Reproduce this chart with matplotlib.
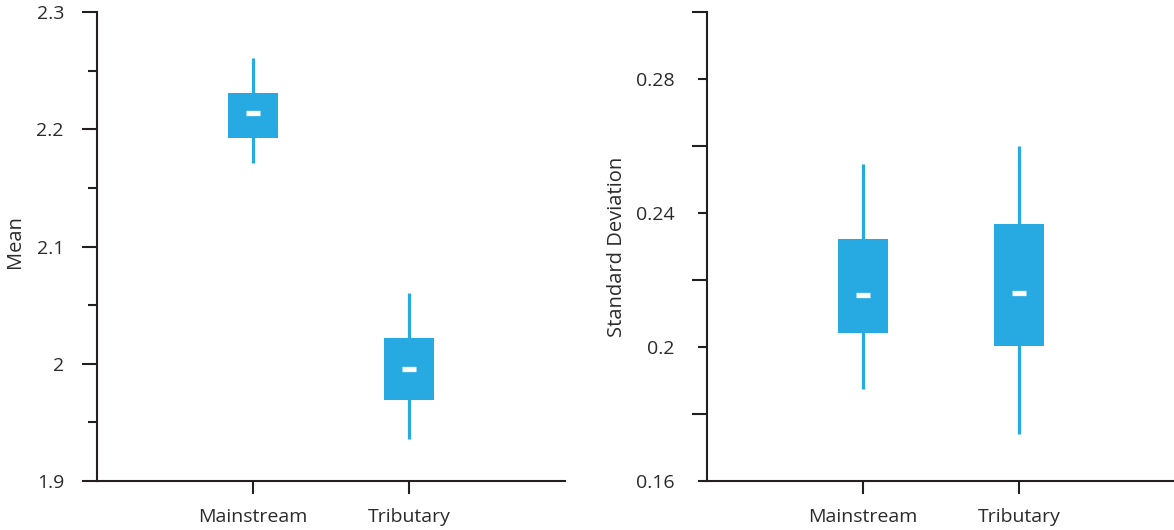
import numpy as np
import matplotlib.pyplot as plt
from matplotlib.ticker import FixedLocator, FixedFormatter

plt.rcParams['font.family'] = ['Open Sans', 'DejaVu Sans']

categories = ["Mainstream", "Tributary"]

# mean panel
mean_whisk_lo = [2.171, 1.936]
mean_q1 = [2.1925, 1.969]
mean_mid = [2.214, 1.9955]
mean_q3 = [2.231, 2.022]
mean_whisk_hi = [2.261, 2.060]

# standard deviation panel
sd_whisk_lo = [0.1876, 0.1741]
sd_q1 = [0.2041, 0.2002]
sd_mid = [0.2155, 0.2161]
sd_q3 = [0.2323, 0.2368]
sd_whisk_hi = [0.2545, 0.2599]

mean_major = [1.9, 2.0, 2.1, 2.2, 2.3]
mean_major_labels = ["1.9", "2", "2.1", "2.2", "2.3"]
mean_minor = [1.95, 2.05, 2.15, 2.25]
sd_major = [0.16, 0.2, 0.24, 0.28]
sd_major_labels = ["0.16", "0.2", "0.24", "0.28"]
sd_minor = [0.18, 0.22, 0.26, 0.30]

blue = "#27aae1"
ink = "#231f20"
txt = "#2b2b2b"
W, H = 1174, 530

fig = plt.figure(figsize=(W/100, H/100), dpi=100)
ax1 = fig.add_axes([97/W, 49/H, 468/W, 469/H])
ax2 = fig.add_axes([707/W, 49/H, 468/W, 469/H])

def draw(ax, lo, q1, mid, q3, hi):
    x = np.arange(1, len(categories) + 1)
    ax.vlines(x, lo, hi, color=blue, lw=2.3, zorder=2)
    ax.bar(x, np.array(q3) - np.array(q1), bottom=q1, width=0.32, color=blue, zorder=3)
    ax.hlines(mid, x - 0.048, x + 0.048, color="white", lw=3.8, zorder=4)
    ax.set_xlim(0, 3)
    ax.set_xticks(x)
    ax.set_xticklabels(categories)
    for s in ["top", "right"]:
        ax.spines[s].set_visible(False)
    for s in ["left", "bottom"]:
        ax.spines[s].set_linewidth(1.5)
        ax.spines[s].set_color(ink)
    ax.tick_params(axis="x", length=9.5, width=1.5, color=ink, pad=10, labelsize=14, labelcolor=txt)

draw(ax1, mean_whisk_lo, mean_q1, mean_mid, mean_q3, mean_whisk_hi)
ax1.set_ylim(1.9, 2.3)
ax1.yaxis.set_major_locator(FixedLocator(mean_major))
ax1.yaxis.set_major_formatter(FixedFormatter(mean_major_labels))
ax1.yaxis.set_minor_locator(FixedLocator(mean_minor))
ax1.tick_params(axis="y", which="major", length=10.8, width=1.5, color=ink, pad=13, labelsize=14, labelcolor=txt)
ax1.tick_params(axis="y", which="minor", length=6.5, width=1.5, color=ink)
ax1.set_ylabel("Mean", fontsize=14.5, color=txt)
ax1.yaxis.set_label_coords(-72/468, 0.51)

draw(ax2, sd_whisk_lo, sd_q1, sd_mid, sd_q3, sd_whisk_hi)
ax2.set_ylim(0.16, 0.30)
ax2.yaxis.set_major_locator(FixedLocator(sd_major))
ax2.yaxis.set_major_formatter(FixedFormatter(sd_major_labels))
ax2.yaxis.set_minor_locator(FixedLocator(sd_minor))
ax2.tick_params(axis="y", which="major", length=6.5, width=1.5, color=ink, pad=17, labelsize=14, labelcolor=txt)
ax2.tick_params(axis="y", which="minor", length=10.8, width=1.5, color=ink)
ax2.set_ylabel("Standard Deviation", fontsize=14.5, color=txt)
ax2.yaxis.set_label_coords(-80/468, 0.5)

fig.savefig("out.png", dpi=100)
plt.close()
